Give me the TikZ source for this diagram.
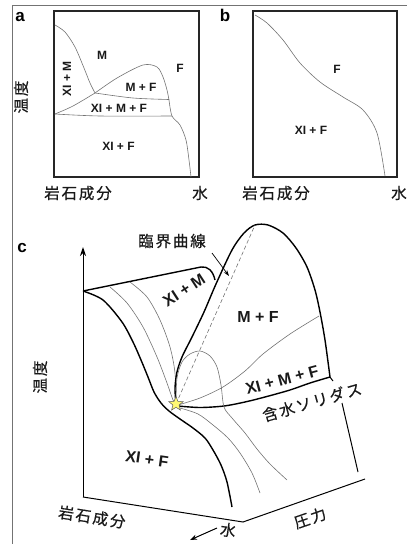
\documentclass[tikz,border=0pt]{standalone}
\usepackage{fontspec}
\setmainfont{Liberation Sans}
\newfontfamily\jp[LetterSpace=12, FakeBold=0.5]{Noto Sans CJK JP}
\usetikzlibrary{arrows.meta,shapes.geometric}
\tikzset{
  frameline/.style={line width=0.8pt, black!55},
  boxline/.style={line width=1.6pt, black!85},
  thincurve/.style={line width=0.6pt, black!55},
  boldcurve/.style={line width=1.4pt, black},
  lab/.style={font=\fontsize{12}{14}\selectfont\bfseries, inner sep=0pt, text=black!90},
  biglab/.style={font=\fontsize{16}{18}\selectfont\bfseries, inner sep=0pt, text=black!90},
  jlab/.style={font=\jp\fontsize{15.5}{18}\selectfont, inner sep=0pt, text=black!90},
  panel/.style={font=\fontsize{17}{19}\selectfont\bfseries, inner sep=0pt},
}
\begin{document}
\begin{tikzpicture}[x=1pt,y=-1pt]
\useasboundingbox (0,0) rectangle (407,544);
% frame
\draw[frameline] (407,5) -- (12,5) -- (12,544);

% ---------- panel a ----------
\node[panel] (pa) at (20,17.5) {a};
\draw[boxline] (54,11) rectangle (199,177);
\draw[thincurve] plot[smooth] coordinates {(55,25)(65,32)(75,47)(84,68)(90,83)(95,93)};
\draw[thincurve] plot[smooth] coordinates {(95,93)(117,78)(143,65)(157,67)(163,77)(167,90)(169,100)};
\draw[thincurve] plot[smooth] coordinates {(95,93)(133,98)(169,99.5)};
\draw[thincurve] plot[smooth] coordinates {(55,114)(73,106)(95,93)};
\draw[thincurve] plot[smooth] coordinates {(55,114)(100,116)(172,116)};
\draw[thincurve] plot[smooth] coordinates {(169,100)(172,116)(180,125)(186,140)(189,160)(191,177)};
\node[lab] (aM) at (102,55) {M};
\node[lab] (aF) at (180,68) {F};
\node[lab] (aMF) at (141,87) {M + F};
\node[lab, rotate=90] (aXM) at (67,79) {XI + M};
\node[lab] (aXMF) at (119,108) {XI + M + F};
\node[lab] (aXF) at (118.5,146) {XI + F};
\node[jlab, rotate=90] (aT) at (21,97) {温度};
\node[jlab] (aR) at (78,193) {岩石成分};
\node[jlab] (aW) at (200,193) {水};

% ---------- panel b ----------
\node[panel] (pb) at (225,15) {b};
\draw[boxline] (253,11) rectangle (397,177);
\draw[thincurve] plot[smooth] coordinates {(255,15)(267,23)(283,40)(300,63)(320,82)(343,97)(363,110)(377,133)(385,176)};
\node[lab] (bF) at (337,69) {F};
\node[lab] (bXF) at (311,130) {XI + F};
\node[jlab] (bR) at (276,193) {岩石成分};
\node[jlab] (bW) at (399,193) {水};

% ---------- panel c ----------
\node[panel] (pc) at (22,248) {c};
\coordinate (o) at (83,497);
\coordinate (tT) at (83,247);
\coordinate (cw) at (243,522);
\coordinate (cp) at (365,479);
\draw[line width=1pt, -{Stealth[length=9pt,width=6pt]}] (o) -- (tT);
\draw[line width=1pt] (o) -- (cw) -- (cp);
\coordinate (st) at (176,404);
% top edge of left surface
\draw[boldcurve] (83,291) -- (201,267) .. controls (208,266) and (213,271) .. (215,280);
% main bold left curve
\draw[boldcurve] plot[smooth] coordinates {(83,291)(103,300)(122,322)(133,342)(141,360)(148,377)(154,392)(161,403)(169,411)(180,419)(193,428)(205,438)(213,450)(221,465)(227,482)(232,507)};
% thin curves left surface
\draw[thincurve] plot[smooth] coordinates {(110,287)(127,303)(143,327)(157,357)(167,383)(173,400)(176,404)};
\draw[thincurve] plot[smooth] coordinates {(130,282)(147,297)(160,320)(170,347)(175,373)(176,404)};
% dome
\draw[boldcurve] plot[smooth] coordinates {(176,404)(175,388)(177,372)(182,357)(192,337)(204,312)(216,284)(232,250)(244,233)(255,225)(268,225)(283,233)(296,248)(307,267)(315,290)(320,312)(325,340)(330,377)};
% solidus
\draw[boldcurve] plot[smooth] coordinates {(330,377)(310,383)(290,390)(265,397)(245,402)(224,406)(200,407.5)(178,406)};
\draw[line width=1pt] (330,377) -- (333,381);
\draw[line width=1pt] (342,403) -- (358,472);
% M+F / Xl+M+F boundary
\draw[thincurve] plot[smooth] coordinates {(178,405)(200,398)(223,387)(245,371)(263,354)(290,334)(319,316)};
% inner dome
\draw[thincurve] plot[smooth] coordinates {(176,403)(177,378)(182,362)(190,354)(200,351)(210,356)(217,367)(221,385)(224,407)(232,418)(245,433)(257,449)(270,464)(287,480)};
% thin from star down
\draw[thincurve] plot[smooth] coordinates {(180,408)(198,414)(213,425)(228,438)(240,453)(252,473)(260,493)};
% critical curve
\draw[thincurve, dashed, dash pattern=on 4pt off 2.5pt] (st) -- (255,225);
\coordinate (ca) at (212,253);
\coordinate (cb) at (229,276);
\node[jlab] (crit) at (172,241) {臨界曲線};
\draw[line width=0.7pt, -{Stealth[length=6pt,width=4pt]}] (ca) -- (cb);
% star
\node[star, star points=5, star point ratio=2.3, fill=yellow!55, draw=black!65, line width=0.5pt, minimum size=15pt, inner sep=0pt] (star) at (st) {};
% labels
\node[biglab, rotate=33] (cXM) at (184,290) {XI + M};
\node[biglab] (cMF) at (258,317) {M + F};
\node[biglab, rotate=15] (cXMF) at (282,380) {XI + M + F};
\node[biglab, rotate=-8] (cXF) at (147,459) {XI + F};
\node[jlab, rotate=16] (sol) at (312,402) {含水ソリダス};
\node[jlab, rotate=90] (cT) at (40,377) {温度};
\node[jlab, rotate=-9] (cR) at (92,517) {岩石成分};
\node[jlab, rotate=-8] (cW) at (228,530) {水};
\coordinate (wa) at (217,528);
\coordinate (wb) at (190,540);
\draw[line width=1pt, -{Stealth[length=7pt,width=5pt]}] (wa) -- (wb);
\node[jlab, rotate=19] (cP) at (310,518) {圧力};
\end{tikzpicture}
\end{document}
